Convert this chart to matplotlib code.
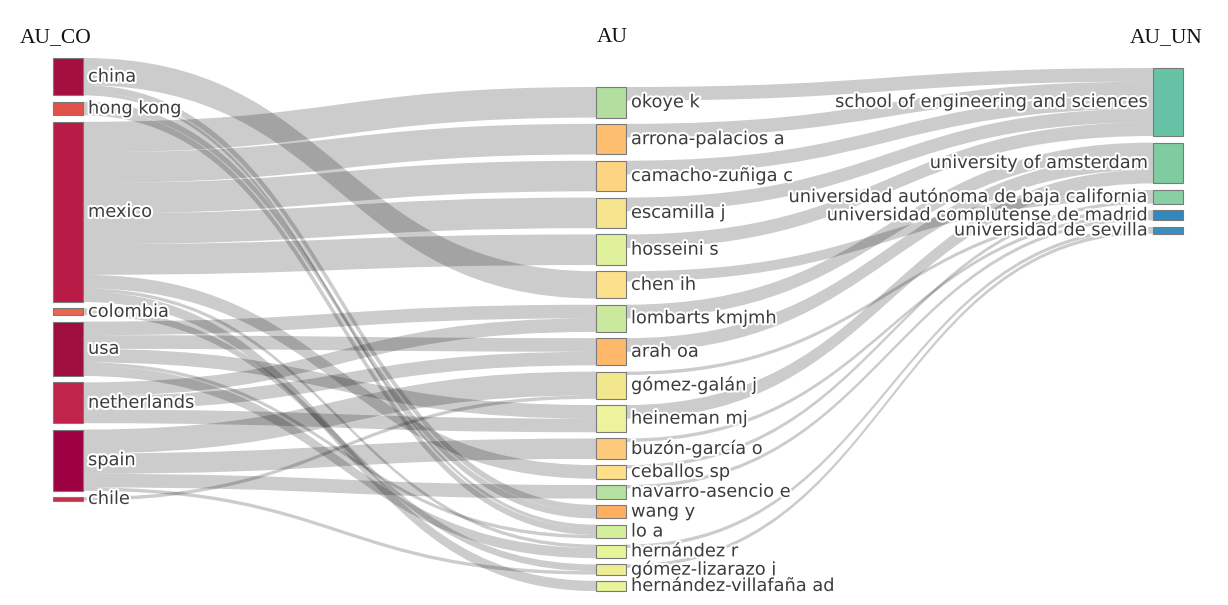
import matplotlib.pyplot as plt
import matplotlib.patheffects as pe
from matplotlib.path import Path
from matplotlib.patches import PathPatch, Rectangle

# three-field plot: country -> author -> affiliation
countries = ["china", "hong kong", "mexico", "colombia", "usa", "netherlands", "spain", "chile"]
authors = ["okoye k", "arrona-palacios a", "camacho-zuñiga c", "escamilla j", "hosseini s",
           "chen ih", "lombarts kmjmh", "arah oa", "gómez-galán j", "heineman mj",
           "buzón-garcía o", "ceballos sp", "navarro-asencio e", "wang y", "lo a",
           "hernández r", "gómez-lizarazo j", "hernández-villafaña ad"]
affiliations = ["school of engineering and sciences", "university of amsterdam",
                "universidad autónoma de baja california", "universidad complutense de madrid",
                "universidad de sevilla"]
field_titles = ["AU_CO", "AU", "AU_UN"]

# links country -> author
co_src = ["china", "china", "china", "hong kong", "hong kong",
          "mexico", "mexico", "mexico", "mexico", "mexico", "mexico", "mexico", "mexico",
          "colombia", "usa", "usa", "usa", "usa", "usa",
          "netherlands", "netherlands", "netherlands",
          "spain", "spain", "spain", "spain", "chile"]
co_dst = ["chen ih", "wang y", "lo a", "wang y", "lo a",
          "okoye k", "arrona-palacios a", "camacho-zuñiga c", "escamilla j", "hosseini s",
          "ceballos sp", "hernández r", "hernández-villafaña ad",
          "gómez-lizarazo j", "lombarts kmjmh", "arah oa", "heineman mj", "lo a", "hernández r",
          "lombarts kmjmh", "arah oa", "heineman mj",
          "gómez-galán j", "buzón-garcía o", "navarro-asencio e", "gómez-lizarazo j", "gómez-galán j"]
co_val = [8, 2, 1, 2, 2,
          9, 9, 9, 9, 9, 4, 1, 3,
          2, 4, 4, 4, 1, 3,
          4, 4, 4,
          7, 6, 4, 1, 1]

# links author -> affiliation
un_src = ["okoye k", "arrona-palacios a", "camacho-zuñiga c", "escamilla j", "hosseini s",
          "chen ih", "lombarts kmjmh", "arah oa", "heineman mj",
          "ceballos sp", "gómez-galán j", "buzón-garcía o", "navarro-asencio e",
          "hernández r", "gómez-lizarazo j"]
un_dst = ["school of engineering and sciences"] * 5 + \
         ["universidad autónoma de baja california", "university of amsterdam",
          "university of amsterdam", "university of amsterdam",
          "universidad autónoma de baja california", "universidad complutense de madrid",
          "universidad complutense de madrid", "universidad complutense de madrid",
          "universidad de sevilla", "universidad de sevilla"]
un_val = [4, 4, 4, 4, 4, 3, 4, 4, 4, 1, 1, 1, 1, 1, 1]

# styling
country_colors = ["#a50f40", "#e2514a", "#b81b46", "#e8674c", "#a00d3f", "#c0244a", "#9e0142", "#c8304a"]
author_colors = ["#b2dfa0", "#fdbe70", "#fdd582", "#f6e48e", "#e0f19c", "#fce08c", "#cbe99d",
                 "#fdb86a", "#f3e78e", "#eef29c", "#fdca7b", "#fee08b", "#b5e0a0", "#fdae61",
                 "#d4ee9b", "#e6f598", "#efed93", "#e8f39a"]
affil_colors = ["#66c2a5", "#7fcca0", "#88d0a4", "#3288bd", "#3a8ebf"]

SCALE = 3.4
NODE_W = 30
LABEL_SIZE = 12.8
columns = [
    dict(names=countries, colors=country_colors, x=53, top=58, gap=6.4, side="right"),
    dict(names=authors, colors=author_colors, x=596, top=87, gap=6.25, side="right"),
    dict(names=affiliations, colors=affil_colors, x=1153, top=68, gap=6.6, side="left"),
]
title_pos = [(56, 38), (612, 38), (1166, 38)]

links = [(s, d, v) for s, d, v in zip(co_src, co_dst, co_val)] + \
        [(s, d, v) for s, d, v in zip(un_src, un_dst, un_val)]

# node values = max(in, out)
inflow, outflow = {}, {}
for s, d, v in links:
    outflow[s] = outflow.get(s, 0) + v
    inflow[d] = inflow.get(d, 0) + v

nodes = {}
for col in columns:
    y = col["top"]
    for name, c in zip(col["names"], col["colors"]):
        h = max(inflow.get(name, 0), outflow.get(name, 0)) * SCALE
        nodes[name] = dict(x=col["x"], y=y, h=h, color=c, side=col["side"])
        y += h + col["gap"]

# stack links within each node (sorted by the other end's position)
out_links = {n: [] for n in nodes}
in_links = {n: [] for n in nodes}
for i, (s, d, v) in enumerate(links):
    out_links[s].append(i)
    in_links[d].append(i)

src_off, dst_off = {}, {}
for n in nodes:
    off = nodes[n]["y"]
    for i in sorted(out_links[n], key=lambda k: nodes[links[k][1]]["y"] + nodes[links[k][1]]["h"] / 2):
        src_off[i] = off
        off += links[i][2] * SCALE
    off = nodes[n]["y"]
    for i in sorted(in_links[n], key=lambda k: nodes[links[k][0]]["y"] + nodes[links[k][0]]["h"] / 2):
        dst_off[i] = off
        off += links[i][2] * SCALE

fig = plt.figure(figsize=(12.28, 6.05), dpi=100)
ax = fig.add_axes([0, 0, 1, 1])
ax.set_xlim(0, 1228)
ax.set_ylim(605, 0)
ax.axis("off")

for i, (s, d, v) in enumerate(links):
    w = v * SCALE
    x0 = nodes[s]["x"] + NODE_W
    x1 = nodes[d]["x"]
    xm = (x0 + x1) / 2
    y0, y1 = src_off[i], dst_off[i]
    verts = [(x0, y0), (xm, y0), (xm, y1), (x1, y1),
             (x1, y1 + w), (xm, y1 + w), (xm, y0 + w), (x0, y0 + w), (x0, y0)]
    codes = [Path.MOVETO, Path.CURVE4, Path.CURVE4, Path.CURVE4,
             Path.LINETO, Path.CURVE4, Path.CURVE4, Path.CURVE4, Path.CLOSEPOLY]
    ax.add_patch(PathPatch(Path(verts, codes), facecolor=(0, 0, 0, 0.2), edgecolor="none", zorder=1))

halo = [pe.withStroke(linewidth=3, foreground="white")]
for name, nd in nodes.items():
    ax.add_patch(Rectangle((nd["x"], nd["y"]), NODE_W, nd["h"], facecolor=nd["color"],
                           edgecolor="#7a7a7a", linewidth=0.8, zorder=2))
    yc = nd["y"] + nd["h"] / 2
    if nd["side"] == "right":
        ax.text(nd["x"] + NODE_W + 5, yc, name, ha="left", va="center", fontsize=LABEL_SIZE,
                color="#3c3c3c", path_effects=halo, zorder=3)
    else:
        ax.text(nd["x"] - 5, yc, name, ha="right", va="center", fontsize=LABEL_SIZE,
                color="#3c3c3c", path_effects=halo, zorder=3)

for t, (tx, ty) in zip(field_titles, title_pos):
    ax.text(tx, ty, t, ha="center", va="center", fontsize=15.5, family="Liberation Serif",
            color="#111111")

fig.savefig("out.png", dpi=100)
